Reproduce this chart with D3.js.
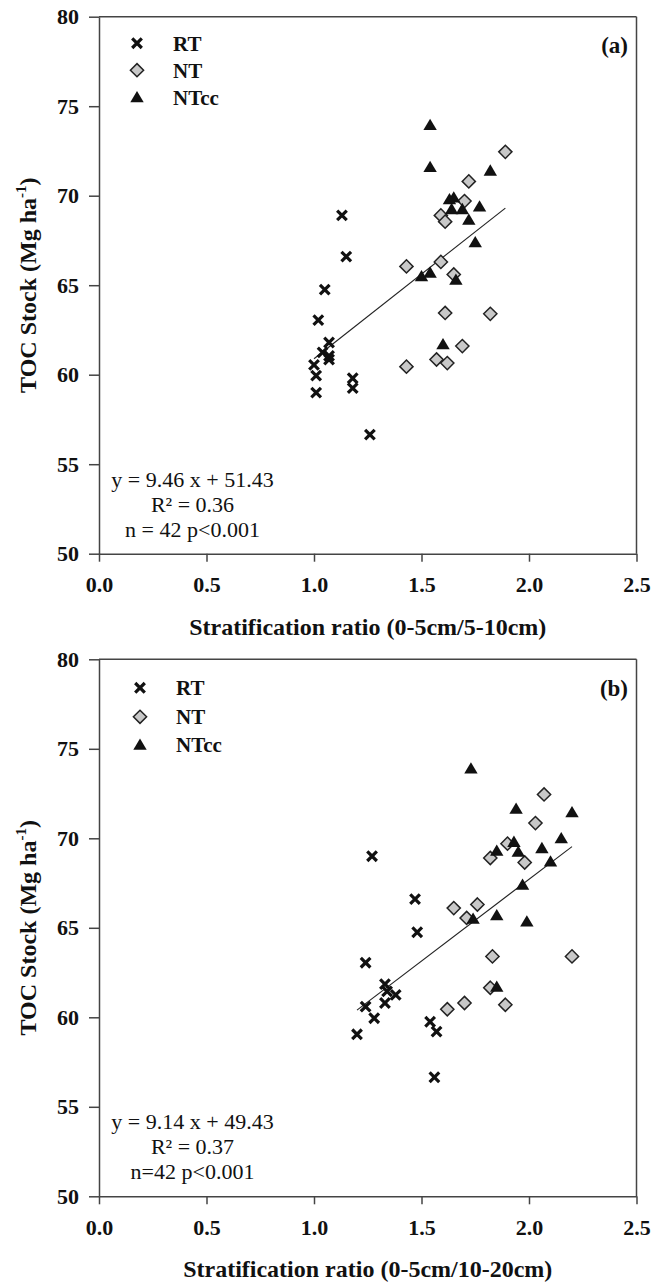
<!DOCTYPE html>
<html>
<head>
<meta charset="utf-8">
<script src="https://cdn.jsdelivr.net/npm/d3@7"></script>
<style>
body { margin: 0; background: #fff; }
text { font-family: "Liberation Serif", "Times New Roman", serif; fill: #111; }
</style>
</head>
<body>
<div id="chart"></div>
<script>
var categories = ["RT", "NT", "NTcc"];
var xTicks = [0, 0.5, 1.0, 1.5, 2.0, 2.5];
var yTicks = [50, 55, 60, 65, 70, 75, 80];

// panel (a) : 0-5cm/5-10cm
var rtA_x = [1.13, 1.15, 1.05, 1.02, 1.07, 1.04, 1.07, 1.07, 1.00, 1.01, 1.01, 1.18, 1.18, 1.26];
var rtA_y = [68.9, 66.6, 64.75, 63.05, 61.8, 61.25, 61.05, 60.85, 60.55, 59.95, 59.0, 59.8, 59.25, 56.65];
var ntA_x = [1.89, 1.72, 1.70, 1.59, 1.61, 1.59, 1.43, 1.65, 1.61, 1.82, 1.69, 1.57, 1.62, 1.43];
var ntA_y = [72.45, 70.8, 69.7, 68.9, 68.55, 66.3, 66.05, 65.6, 63.45, 63.4, 61.6, 60.85, 60.65, 60.45];
var ntccA_x = [1.54, 1.54, 1.82, 1.65, 1.63, 1.64, 1.69, 1.77, 1.72, 1.75, 1.50, 1.54, 1.66, 1.60];
var ntccA_y = [73.95, 71.6, 71.4, 69.9, 69.8, 69.25, 69.25, 69.4, 68.65, 67.4, 65.5, 65.7, 65.3, 61.7];

// panel (b) : 0-5cm/10-20cm
var rtB_x = [1.27, 1.47, 1.48, 1.24, 1.33, 1.34, 1.38, 1.33, 1.24, 1.28, 1.20, 1.54, 1.57, 1.56];
var rtB_y = [69.0, 66.6, 64.75, 63.05, 61.85, 61.45, 61.25, 60.8, 60.6, 59.95, 59.05, 59.75, 59.2, 56.65];
var ntB_x = [2.07, 2.03, 1.90, 1.82, 1.98, 1.76, 1.65, 1.71, 1.83, 2.20, 1.82, 1.70, 1.89, 1.62];
var ntB_y = [72.45, 70.85, 69.7, 68.9, 68.65, 66.3, 66.1, 65.55, 63.4, 63.4, 61.65, 60.8, 60.7, 60.45];
var ntccB_x = [1.73, 1.94, 2.20, 2.15, 1.93, 1.85, 1.95, 2.06, 2.10, 1.97, 1.74, 1.85, 1.99, 1.85];
var ntccB_y = [73.9, 71.65, 71.45, 70.0, 69.8, 69.3, 69.25, 69.45, 68.7, 67.4, 65.5, 65.7, 65.35, 61.7];

var fitA = [9.46, 51.43];
var fitB = [9.14, 49.43];
var notesA = ["y = 9.46 x + 51.43", "R\u00b2 = 0.36", "n = 42 p<0.001"];
var notesB = ["y = 9.14 x + 49.43", "R\u00b2 = 0.37", "n=42 p<0.001"];

var W = 652, H = 1285;
var left = 99, plotW = 537.5, plotH = 537;

var svg = d3.select("#chart").append("svg")
    .attr("width", W)
    .attr("height", H);

var x = d3.scaleLinear().domain([0, 2.5]).range([0, plotW]);
var y = d3.scaleLinear().domain([50, 80]).range([plotH, 0]);

function marker(g, kind) {
    if (kind == "RT") {
        g.append("path")
            .attr("d", "M-4.8,-4.8L4.8,4.8M-4.8,4.8L4.8,-4.8")
            .attr("stroke", "#111")
            .attr("stroke-width", 3.2)
            .attr("fill", "none");
    } else if (kind == "NT") {
        g.append("path")
            .attr("d", "M0,-6.6L6.6,0L0,6.6L-6.6,0Z")
            .attr("fill", "#c8c8c8")
            .attr("stroke", "#222")
            .attr("stroke-width", 1.5);
    } else {
        g.append("path")
            .attr("d", "M0,-6.3L6.7,5L-6.7,5Z")
            .attr("fill", "#111");
    }
}

function drawPanel(opt) {
    var g = svg.append("g")
        .attr("transform", "translate(" + left + "," + opt.top + ")");

    // frame top and right
    g.append("line").attr("x1", 0).attr("x2", plotW).attr("y1", 0).attr("y2", 0)
        .attr("stroke", "#444").attr("stroke-width", 1.5);
    g.append("line").attr("x1", plotW).attr("x2", plotW).attr("y1", 0).attr("y2", plotH)
        .attr("stroke", "#444").attr("stroke-width", 1.5);

    var ya = g.append("g")
        .call(d3.axisLeft(y).tickValues(yTicks).tickSize(10).tickSizeOuter(0).tickPadding(10));
    var xa = g.append("g")
        .attr("transform", "translate(0," + plotH + ")")
        .call(d3.axisBottom(x).tickValues(xTicks).tickSize(8).tickSizeOuter(0).tickPadding(15)
            .tickFormat(d3.format(".1f")));
    [ya, xa].forEach(function(a) {
        a.selectAll("path, line").attr("stroke", "#444").attr("stroke-width", 1.5);
        a.selectAll("text")
            .attr("fill", "#111")
            .style("font-family", "'Liberation Serif', serif")
            .style("font-size", "22px")
            .style("font-weight", "bold");
    });

    // axis titles
    var yt = g.append("text")
        .attr("transform", "translate(-63," + (plotH / 2) + ") rotate(-90)")
        .attr("text-anchor", "middle")
        .style("font-size", "24px")
        .style("font-weight", "bold");
    yt.append("tspan").text("TOC Stock (Mg ha");
    yt.append("tspan").text("-1").style("font-size", "15px").attr("dy", -10);
    yt.append("tspan").text(")").attr("dy", 10);

    g.append("text")
        .attr("x", plotW / 2)
        .attr("y", plotH + 81)
        .attr("text-anchor", "middle")
        .style("font-size", "24px")
        .style("font-weight", "bold")
        .text(opt.xTitle);

    // regression line
    var xs = opt.series[0].x.concat(opt.series[1].x, opt.series[2].x);
    var ext = d3.extent(xs);
    g.append("line")
        .attr("x1", x(ext[0])).attr("y1", y(opt.fit[0] * ext[0] + opt.fit[1]))
        .attr("x2", x(ext[1])).attr("y2", y(opt.fit[0] * ext[1] + opt.fit[1]))
        .attr("stroke", "#222")
        .attr("stroke-width", 1.1);

    // points
    opt.series.forEach(function(s, i) {
        var kind = categories[i];
        s.x.forEach(function(v, j) {
            var m = g.append("g")
                .attr("transform", "translate(" + x(v) + "," + y(s.y[j]) + ")");
            marker(m, kind);
        });
    });

    // legend
    categories.forEach(function(c, i) {
        var ry = opt.legY[i];
        var m = g.append("g").attr("transform", "translate(" + opt.legX + "," + ry + ")");
        marker(m, c);
        g.append("text")
            .attr("x", opt.legX + 36)
            .attr("y", ry + 7.5)
            .style("font-size", "21px")
            .style("font-weight", "bold")
            .text(c);
    });

    g.append("text")
        .attr("x", plotW - 8.5)
        .attr("y", 36.5)
        .attr("text-anchor", "end")
        .style("font-size", "23px")
        .style("font-weight", "bold")
        .text(opt.tag);

    opt.notes.forEach(function(t, i) {
        g.append("text")
            .attr("x", 93.5)
            .attr("y", 470 + i * 25)
            .attr("text-anchor", "middle")
            .style("font-size", "22px")
            .text(t);
    });
}

drawPanel({
    top: 16.7,
    series: [{x: rtA_x, y: rtA_y}, {x: ntA_x, y: ntA_y}, {x: ntccA_x, y: ntccA_y}],
    fit: fitA,
    notes: notesA,
    tag: "(a)",
    xTitle: "Stratification ratio (0-5cm/5-10cm)",
    legX: 38,
    legY: [26.5, 53.5, 80.5]
});

drawPanel({
    top: 659.3,
    series: [{x: rtB_x, y: rtB_y}, {x: ntB_x, y: ntB_y}, {x: ntccB_x, y: ntccB_y}],
    fit: fitB,
    notes: notesB,
    tag: "(b)",
    xTitle: "Stratification ratio (0-5cm/10-20cm)",
    legX: 41,
    legY: [28.5, 57.5, 85.5]
});
</script>
</body>
</html>
